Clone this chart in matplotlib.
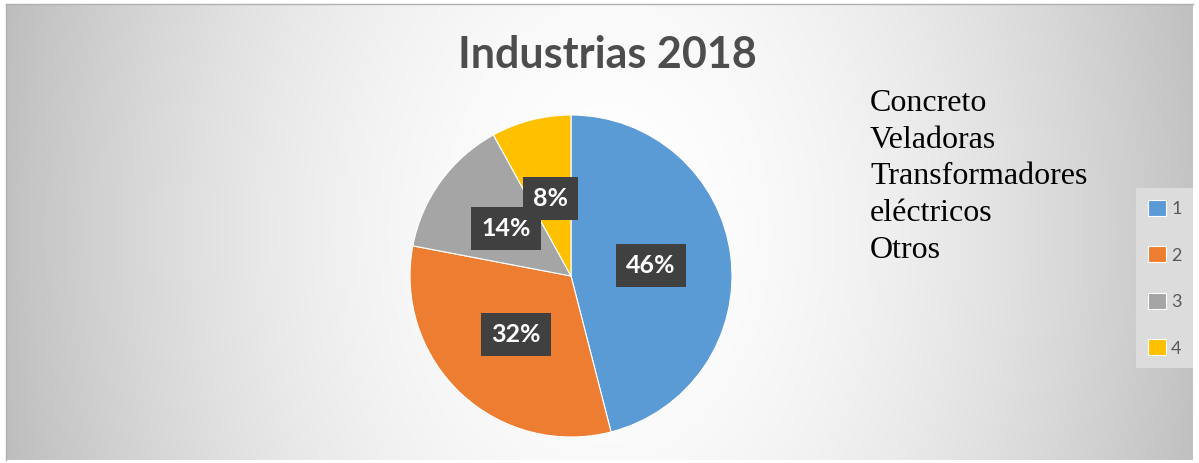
import numpy as np
import matplotlib
matplotlib.use("Agg")
import matplotlib.pyplot as plt

# data
categories = ["1", "2", "3", "4"]
shares = [46, 32, 14, 8]
colors = ["#5b9bd5", "#ed7d31", "#a5a5a5", "#ffc000"]
names = ["Concreto", "Veladoras", "Transformadores", "eléctricos", "Otros"]
title = "Industrias 2018"

W, H = 1199, 463
fig = plt.figure(figsize=(W / 100, H / 100), dpi=100)
fig.patch.set_facecolor("white")

# background gradient of the chart area (white in the middle, grey at the sides)
bg = fig.add_axes([6 / W, 3 / H, 1187 / W, 456 / H])
yy, xx = np.mgrid[0:456, 0:1187]
d = np.sqrt((xx - 600.0) ** 2 + (0.7 * (yy - 228.0)) ** 2) / 590.0
g = np.clip(255 - 60 * d ** 1.8, 0, 255) / 255.0
bg.imshow(np.dstack([g, g, g]), aspect="auto", extent=[0, 1, 0, 1])
bg.set_axis_off()
fig.add_artist(plt.Line2D([6 / W, 1193 / W], [1 - 4 / H, 1 - 4 / H], color="#b0b0b0", lw=1))
fig.add_artist(plt.Line2D([6 / W, 6 / W], [3 / H, 1 - 4 / H], color="#b0b0b0", lw=1))

# pie
cx, cy, rad = 571, H - 276, 161
ax = fig.add_axes([(cx - rad) / W, (cy - rad) / H, 2 * rad / W, 2 * rad / H])
wedges, texts, autotexts = ax.pie(
    shares, colors=colors, startangle=90, counterclock=False,
    autopct="%1.0f%%", pctdistance=0.5,
    wedgeprops=dict(edgecolor="white", linewidth=0.8),
    textprops=dict(color="white", fontsize=18, fontweight="bold", family="Lato"),
)
for t in autotexts:
    t.set_bbox(dict(boxstyle="square,pad=0.4", facecolor="#404040", edgecolor="none"))
ax.set_xlim(-1, 1)
ax.set_ylim(-1, 1)
ax.set_aspect("auto")
ax.set_axis_off()

fig.text(607 / W, 1 - 55 / H, title, ha="center", va="center", fontsize=31,
         fontweight="bold", color="#4d4d4d", family="Lato")

fig.text(870 / W, 1 - 89 / H, "\n".join(names), ha="left", va="top", fontsize=23,
         family="Liberation Serif", color="black", linespacing=1.35)

leg = fig.legend(wedges, categories, loc="upper left",
                 bbox_to_anchor=(1136 / W, 1 - 188 / H), frameon=True,
                 fancybox=False, facecolor="#dcdcdc", edgecolor="none", framealpha=1,
                 fontsize=13, handlelength=1.0, handleheight=1.0, handletextpad=0.3,
                 labelspacing=1.62, borderpad=0.65, borderaxespad=0)
for t in leg.get_texts():
    t.set_color("#595959")
    t.set_family("Lato")

fig.savefig("out.png", dpi=100)
